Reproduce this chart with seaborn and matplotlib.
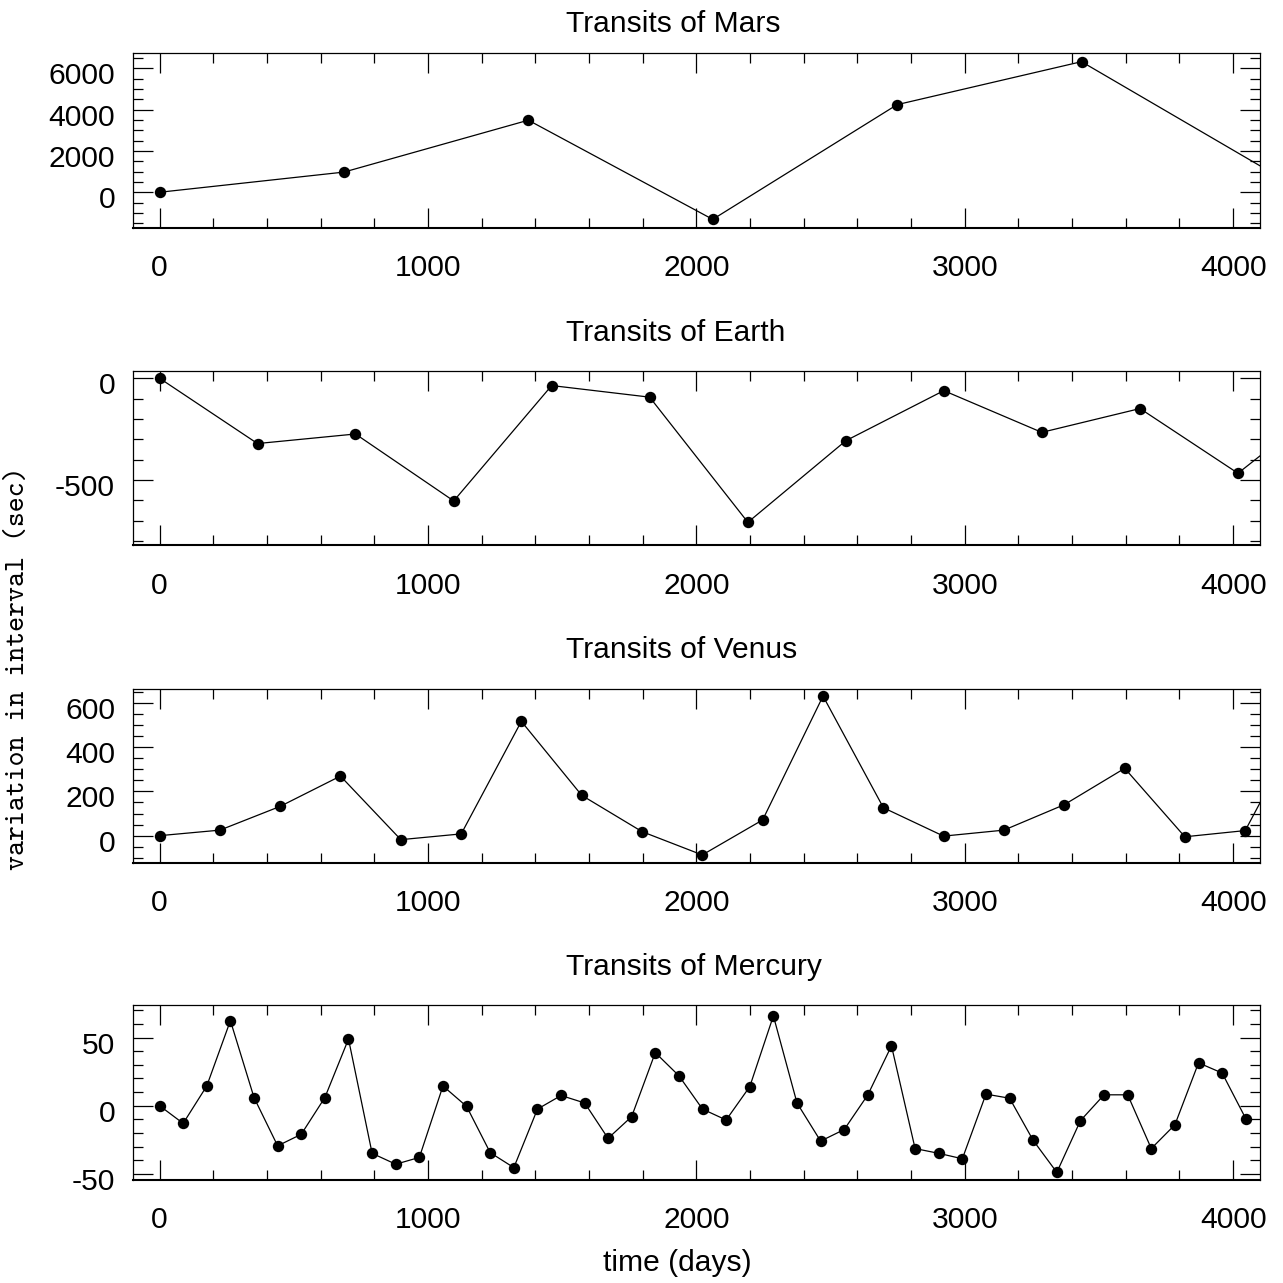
import matplotlib
matplotlib.use("Agg")
import matplotlib.pyplot as plt
import matplotlib.transforms as mtransforms
from matplotlib.ticker import MultipleLocator
import seaborn as sns

# Transit timing variations: day of each transit and the change in interval (sec)
mars_days = [0, 687, 1374, 2061, 2748, 3435, 4122]
mars_var = [0, 976, 3488, -1312, 4240, 6320, 1113]

earth_days = [0, 365, 730, 1096, 1461, 1826, 2192, 2557, 2922, 3287, 3653, 4018, 4383]
earth_var = [0, -321, -274, -603, -36, -93, -708, -307, -61, -266, -149, -467, -87]

venus_days = [0, 225, 449, 674, 899, 1124, 1348, 1573, 1798, 2022, 2247, 2472,
              2697, 2921, 3146, 3371, 3596, 3820, 4045, 4270]
venus_var = [0, 25, 132, 269, -18, 8, 516, 182, 18, -87, 71, 630,
             126, -2, 25, 140, 304, -5, 23, 535]

mercury_days = [0, 88, 176, 264, 352, 440, 528, 616, 704, 792, 880, 968,
                1056, 1144, 1232, 1320, 1408, 1496, 1584, 1671, 1759, 1847,
                1935, 2023, 2111, 2199, 2287, 2375, 2463, 2551, 2639, 2727,
                2815, 2903, 2991, 3079, 3167, 3255, 3343, 3431, 3519, 3607,
                3695, 3783, 3871, 3959, 4047]
mercury_var = [0, -13, 14.5, 62.5, 6, -29.5, -21, 6, 49, -35, -43, -38,
               14.5, -0.5, -34.5, -45.5, -2.5, 7.5, 2, -24, -8, 39,
               22, -2.5, -10.5, 14, 66, 2, -26, -17.5, 8, 44,
               -31.5, -35, -39, 8.5, 5.5, -25.5, -49, -11, 8, 8,
               -31.5, -14, 31.5, 24, -9.5]

titles = ["Transits of Mars", "Transits of Earth", "Transits of Venus", "Transits of Mercury"]
x_label = "time (days)"
y_label = "variation in interval (sec)"

sns.set_style("ticks")
plt.rcParams.update({
    "font.family": ["Liberation Sans", "DejaVu Sans"],
    "axes.unicode_minus": False,
    "text.color": "black",
    "axes.labelcolor": "black",
    "axes.edgecolor": "black",
    "xtick.color": "black",
    "ytick.color": "black",
    "xtick.labelcolor": "black",
    "ytick.labelcolor": "black",
})

W = H = 1283.0
fig = plt.figure(figsize=(12.83, 12.83), dpi=100)
fig.patch.set_facecolor("white")

left_px, right_px = 132.7, 1260.0
# (series, ylim, major step, minor step, top px, bottom px, title baseline px)
panels = [
    (mars_days, mars_var, (-1730, 6740), 2000, 500, 53.0, 228.0, 32.3),
    (earth_days, earth_var, (-821, 37), 500, 100, 370.7, 545.3, 340.7),
    (venus_days, venus_var, (-122, 662), 200, 50, 689.0, 862.7, 658.3),
    (mercury_days, mercury_var, (-54.6, 74), 50, 10, 1005.0, 1180.0, 975.0),
]

label_shift = mtransforms.ScaledTranslation(0, -5.0 / 100.0, fig.dpi_scale_trans)

for title, (days, var, ylim, major, minor, top, bot, tb) in zip(titles, panels):
    ax = fig.add_axes([left_px / W, 1 - bot / H, (right_px - left_px) / W, (bot - top) / H])
    sns.lineplot(x=days, y=var, ax=ax, color="black", linewidth=0.9,
                 marker="o", markersize=8.2, markeredgewidth=0,
                 sort=False, estimator=None)
    ax.set_xlim(-100, 4100)
    ax.set_ylim(*ylim)
    ax.xaxis.set_major_locator(MultipleLocator(1000))
    ax.xaxis.set_minor_locator(MultipleLocator(200))
    ax.yaxis.set_major_locator(MultipleLocator(major))
    ax.yaxis.set_minor_locator(MultipleLocator(minor))
    ax.set_xlabel("")
    ax.set_ylabel("")
    ax.tick_params(which="both", direction="in", top=True, right=True,
                   width=0.9, labelsize=21.6, colors="black")
    ax.tick_params(which="major", length=14.4)
    ax.tick_params(which="minor", length=7.2)
    ax.tick_params(axis="x", which="major", pad=19)
    ax.tick_params(axis="y", which="major", pad=12.7)
    for side in ["top", "left", "right"]:
        ax.spines[side].set_linewidth(0.9)
    ax.spines["bottom"].set_linewidth(1.5)
    for tick in ax.yaxis.get_major_ticks():
        tick.label1.set_transform(tick.label1.get_transform() + label_shift)
    fig.text(566 / W, 1 - tb / H, title, ha="left", va="baseline",
             fontsize=21.6, color="black")

fig.text(677 / W, 1 - 1271 / H, x_label, ha="center", va="baseline",
         fontsize=21.6, color="black")
fig.text(19 / W, 1 - 668.5 / H, y_label, rotation=90, ha="center", va="center",
         fontsize=20.5, color="black", family=["cmtt10", "DejaVu Sans Mono"])

fig.savefig("out.png", dpi=100, facecolor="white")
